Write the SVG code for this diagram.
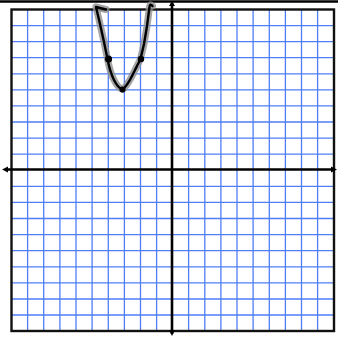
<svg xmlns="http://www.w3.org/2000/svg" width="338" height="337" viewBox="0 0 338 337">
<style>
.g{stroke:#4f7ef7;stroke-width:1.3;fill:none}
.ax{stroke:#000;stroke-width:2.6;fill:none}
.bd{stroke:#111;stroke-width:2.4;fill:none}
.cv{fill:none;stroke-linejoin:round;stroke-linecap:round}
</style>
<rect width="338" height="337" fill="#fff"/>
<g id="grid">
<path class="g" d="M27.6 9.5V331M43.7 9.5V331M59.9 9.5V331M76 9.5V331M92.1 9.5V331M108.3 9.5V331M124.4 9.5V331M140.5 9.5V331M156.6 9.5V331M188.6 9.5V331M204.8 9.5V331M220.9 9.5V331M237 9.5V331M253.1 9.5V331M269.3 9.5V331M285.4 9.5V331M301.5 9.5V331M317.6 9.5V331"/>
<path class="g" d="M11.5 25.6H334M11.5 41.6H334M11.5 57.7H334M11.5 73.8H334M11.5 89.9H334M11.5 105.9H334M11.5 122H334M11.5 138.1H334M11.5 154.2H334M11.5 186.3H334M11.5 202.4H334M11.5 218.5H334M11.5 234.6H334M11.5 250.7H334M11.5 266.8H334M11.5 282.9H334M11.5 299H334M11.5 315H334"/>
</g>
<g id="border">
<rect class="bd" x="11.5" y="9.5" width="322.5" height="321.5"/>
<line x1="0" y1="1.5" x2="338" y2="1.5" stroke="#000" stroke-width="2.6"/>
</g>
<g id="axes">
<line class="ax" x1="5" y1="169.5" x2="335" y2="169.5"/>
<line class="ax" x1="172" y1="3" x2="172" y2="334"/>
<path d="M2 169.5L8 166.5V172.5Z M337 169.5L331 166.5V172.5Z M172 336L169 330H175Z M172 1L169 6H175Z" fill="#000"/>
</g>
<g id="parabola">
<path class="cv" stroke="#8f8f8f" stroke-width="7" opacity="0.8" d="M96 7L100 24L104 42L107.5 59Q110 72 114 80Q118 88 122.5 89.5Q127 86 132 76L140.5 59L144 44L147 26L149.5 7M96 7L106 9.5M149.5 7Q150 3 152.5 6"/>
<path class="cv" stroke="#000" stroke-width="2.4" d="M96 7L100 24L104 42L107.5 59Q110 72 114 80Q118 88 122.5 89.5Q127 86 132 76L140.5 59L144 44L147 26L149.5 7M96 7L106 9.5M149.5 7Q150 3 152.5 6"/>
<circle cx="108.5" cy="59" r="3.6" fill="#000"/>
<circle cx="141" cy="59" r="3.2" fill="#000"/>
<circle cx="122.5" cy="89.5" r="3" fill="#000"/>
</g>
</svg>
